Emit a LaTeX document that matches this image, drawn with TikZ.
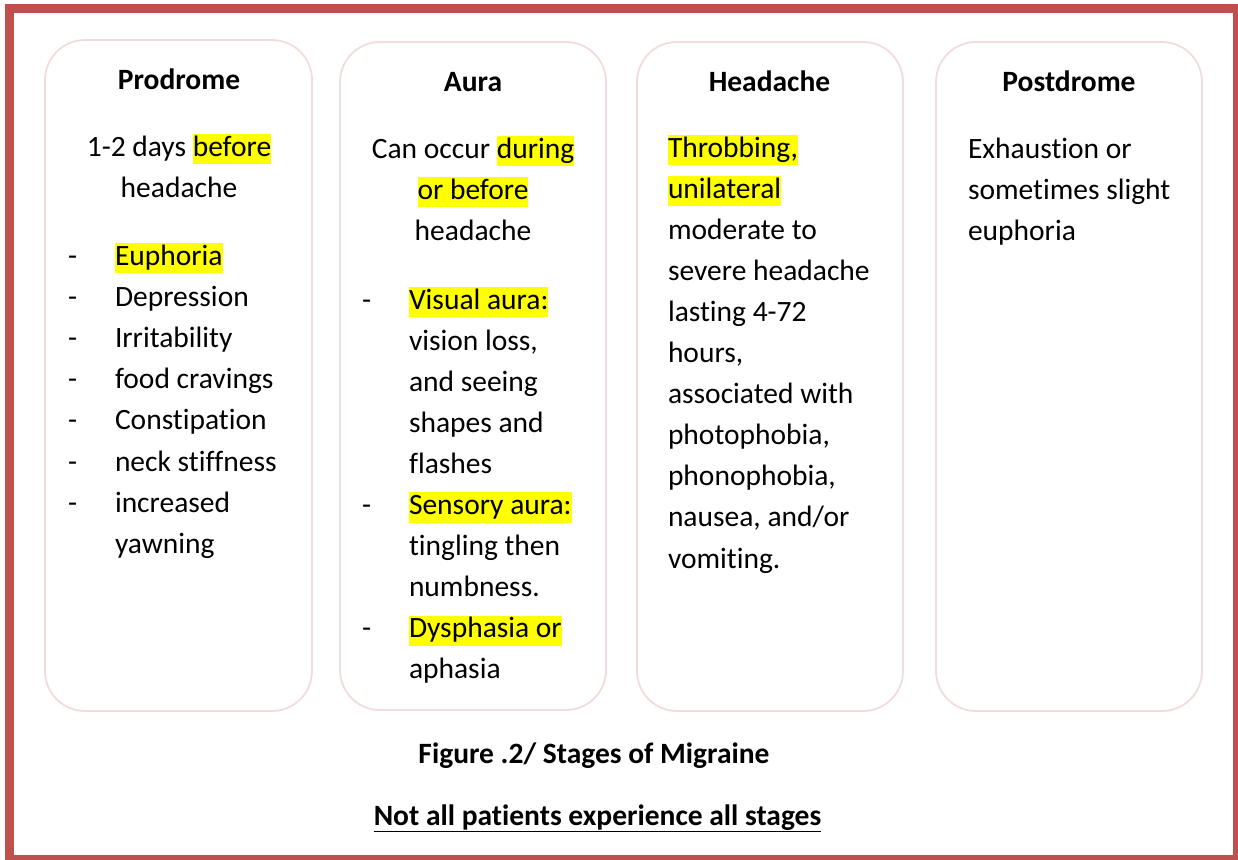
\documentclass[tikz,border=0pt]{standalone}
\usepackage{fontspec}
\setmainfont{Carlito}[Ligatures={NoCommon}]
\definecolor{framered}{HTML}{C0504D}
\definecolor{boxpink}{HTML}{F2DCDB}
\definecolor{hly}{HTML}{FFFF00}
\newcommand\hlt[1]{{\setlength{\fboxsep}{0pt}\colorbox{hly}{\rule[-0.28em]{0pt}{1.03em}#1}}}
\tikzset{
  frame/.style={draw=framered, line width=9pt},
  stagebox/.style={draw=boxpink, line width=1.8pt, rounded corners=40pt},
  txt/.style={inner sep=0pt, outer sep=0pt, font=\fontsize{29.5}{35}\selectfont},
  ttl/.style={txt, font=\fontsize{29.5}{35}\selectfont\bfseries, anchor=base},
}
\begin{document}
\begin{tikzpicture}[x=1pt,y=-1pt]
\useasboundingbox (0,0) rectangle (1238,859);
\begin{scope}
  \clip (0,0) rectangle (1238,859);
  \draw[frame] (9.5,9) rectangle (1237.5,859.5);
\end{scope}
% stage boxes
\draw[stagebox] (45,40) rectangle (312,711);
\draw[stagebox] (340,42) rectangle (606,710);
\draw[stagebox] (637,42) rectangle (903,711);
\draw[stagebox] (936,42) rectangle (1202,711);
% titles
\node[ttl] (t1) at (179,89) {Prodrome};
\node[ttl] (t2) at (473,91) {Aura};
\node[ttl] (t3) at (769.5,91) {Headache};
\node[ttl] (t4) at (1069,91) {Postdrome};
% Prodrome
\node[txt, anchor=base] (p1) at (179,156) {1-2 days \hlt{before}};
\node[txt, anchor=base] (p2) at (179,197) {headache};
\foreach \t [count=\i from 0] in {\hlt{Euphoria}, Depression, Irritability, food cravings, Constipation, neck stiffness, increased, yawning}
  \node[txt, anchor=base west] (pl\i) at (115,{265+41.2*\i}) {\t};
\foreach \i in {0,...,6}
  \node[txt, anchor=base west] (pd\i) at (68,{265+41.2*\i}) {-};
% Aura
\node[txt, anchor=base] (a1) at (473,158) {Can occur \hlt{during}};
\node[txt, anchor=base] (a2) at (473,199) {\hlt{or before}};
\node[txt, anchor=base] (a3) at (473,240) {headache};
\foreach \t [count=\i from 0] in {\hlt{Visual aura:}, {vision loss,}, and seeing, shapes and, flashes, \hlt{Sensory aura:}, tingling then, numbness., \hlt{Dysphasia or}, aphasia}
  \node[txt, anchor=base west] (al\i) at (409,{309+41.1*\i}) {\t};
\foreach \i in {0,5,8}
  \node[txt, anchor=base west] (ad\i) at (362,{309+41.1*\i}) {-};
% Headache
\foreach \t [count=\i from 0] in {\hlt{Throbbing,}, \hlt{unilateral}, moderate to, severe headache, lasting 4-72, {hours,}, associated with, {photophobia,}, {phonophobia,}, {nausea, and/or}, vomiting.}
  \node[txt, anchor=base west] (hl\i) at (668,{157+41.1*\i}) {\t};
% Postdrome
\foreach \t [count=\i from 0] in {Exhaustion or, sometimes slight, euphoria}
  \node[txt, anchor=base west] (ol\i) at (968,{158+41*\i}) {\t};
% captions
\node[ttl] (cap) at (594,763) {Figure .2/ Stages of Migraine};
\node[ttl] (note) at (597.5,825) {\underline{Not all patients experience all stages}};
\end{tikzpicture}
\end{document}
